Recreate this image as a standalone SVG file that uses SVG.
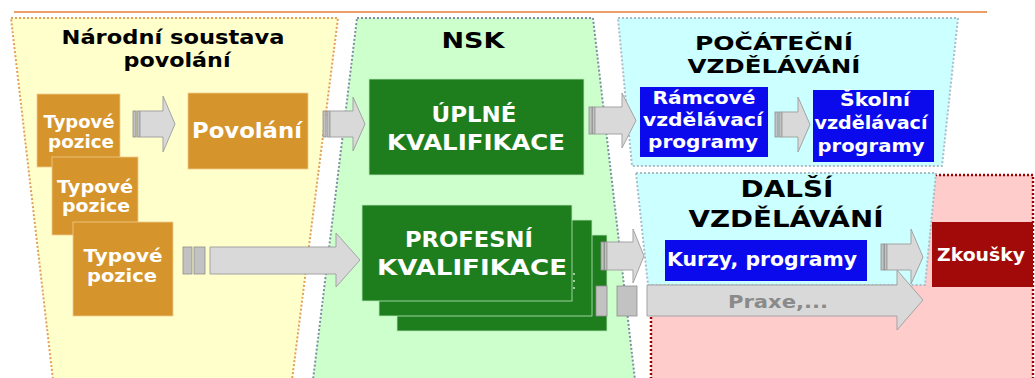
<svg xmlns="http://www.w3.org/2000/svg" width="1035" height="378" viewBox="0 0 1035 378">
<style>
text{font-family:"DejaVu Sans","Verdana",sans-serif;font-weight:bold;text-anchor:middle}
.t{fill:#000}
.w{fill:#fff}
.g{fill:#8a8a8a}
.reg-y{fill:#FFFFCC;stroke:#E2A05A;stroke-width:2;stroke-dasharray:2 2}
.reg-g{fill:#CCFFCC;stroke:#7E8FA3;stroke-width:2;stroke-dasharray:2 2}
.reg-c{fill:#CCFFFF;stroke:#A9BDC9;stroke-width:2;stroke-dasharray:2 2}
.reg-p{fill:#FFCCCC;stroke:#A00000;stroke-width:2.5;stroke-dasharray:2 2}
.or{fill:#D6952C;stroke:#EFCB8C;stroke-width:0.8}
.gr{fill:#1E7E1E;stroke:#B8E8B8;stroke-width:0.8}
.bl{fill:#0A0AEC}
.rd{fill:#A20A0A}
.ar{fill:#D9D9D9;stroke:#A3A3A3;stroke-width:1}
.st{fill:#C2C2C2;stroke:#8E8E8E;stroke-width:0.8}
</style>

<!-- top rule -->
<line x1="14" y1="12" x2="987" y2="12" stroke="#EB9E6A" stroke-width="2"/>

<!-- regions -->
<g id="regions">
  <polygon class="reg-y" points="11,18 338,18 292,380 53,380"/>
  <polygon class="reg-g" points="357,18 593,18 635,380 313,380"/>
  <rect class="reg-p" x="651" y="175" width="382" height="210"/>
  <polygon class="reg-c" points="618,18 958,18 942,166 632,166"/>
  <polygon class="reg-c" points="636,173 936,173 925,285 648,285"/>
</g>

<!-- region titles -->
<g id="title-nsp">
  <text class="t" x="173" y="44" font-size="19.5" textLength="223" lengthAdjust="spacingAndGlyphs">Národní soustava</text>
  <text class="t" x="177" y="67" font-size="19.5" textLength="107" lengthAdjust="spacingAndGlyphs">povolání</text>
</g>
<g id="title-nsk">
  <text class="t" x="473" y="48" font-size="22" textLength="63" lengthAdjust="spacingAndGlyphs">NSK</text>
</g>
<g id="title-pv">
  <text class="t" x="774" y="50" font-size="20" textLength="158" lengthAdjust="spacingAndGlyphs">POČÁTEČNÍ</text>
  <text class="t" x="774" y="73" font-size="20" textLength="173" lengthAdjust="spacingAndGlyphs">VZDĚLÁVÁNÍ</text>
</g>
<g id="title-dv">
  <text class="t" x="787" y="197" font-size="23" textLength="93" lengthAdjust="spacingAndGlyphs">DALŠÍ</text>
  <text class="t" x="786" y="227" font-size="23" textLength="195" lengthAdjust="spacingAndGlyphs">VZDĚLÁVÁNÍ</text>
</g>

<!-- nodes -->
<g id="typove1">
  <rect class="or" x="37" y="94" width="83" height="73"/>
  <text class="w" x="79" y="128" font-size="18" textLength="71" lengthAdjust="spacingAndGlyphs">Typové</text>
  <text class="w" x="81" y="148" font-size="18" textLength="66" lengthAdjust="spacingAndGlyphs">pozice</text>
</g>
<g id="typove2">
  <rect class="or" x="52" y="157" width="86" height="78"/>
  <text class="w" x="95" y="193" font-size="18" textLength="76" lengthAdjust="spacingAndGlyphs">Typové</text>
  <text class="w" x="96" y="212" font-size="18" textLength="68" lengthAdjust="spacingAndGlyphs">pozice</text>
</g>
<g id="typove3">
  <rect class="or" x="73" y="222" width="100" height="94"/>
  <text class="w" x="123" y="262" font-size="18" textLength="79" lengthAdjust="spacingAndGlyphs">Typové</text>
  <text class="w" x="122" y="282" font-size="18" textLength="70" lengthAdjust="spacingAndGlyphs">pozice</text>
</g>
<g id="povolani">
  <rect class="or" x="188" y="93" width="120" height="76"/>
  <text class="w" x="247" y="138" font-size="21" textLength="110" lengthAdjust="spacingAndGlyphs">Povolání</text>
</g>
<g id="uplne">
  <rect class="gr" x="369" y="79" width="215" height="96"/>
  <text class="w" x="474" y="122" font-size="20.5" textLength="85" lengthAdjust="spacingAndGlyphs">ÚPLNÉ</text>
  <text class="w" x="476" y="150" font-size="20.5" textLength="178" lengthAdjust="spacingAndGlyphs">KVALIFIKACE</text>
</g>
<g id="profesni">
  <rect class="gr" x="397" y="235" width="210" height="96"/>
  <rect class="gr" x="379" y="220" width="213" height="96"/>
  <rect class="gr" x="362" y="205" width="210" height="96"/>
  <circle cx="574" cy="274" r="1" fill="#C8ECC8"/>
  <circle cx="574" cy="281" r="1" fill="#C8ECC8"/>
  <circle cx="574" cy="288" r="1" fill="#C8ECC8"/>
  <text class="w" x="469" y="247" font-size="20.5" textLength="128" lengthAdjust="spacingAndGlyphs">PROFESNÍ</text>
  <text class="w" x="472" y="275" font-size="20.5" textLength="190" lengthAdjust="spacingAndGlyphs">KVALIFIKACE</text>
</g>
<g id="ramcove">
  <rect class="bl" x="640" y="87" width="128" height="70"/>
  <text class="w" x="704" y="104" font-size="17" textLength="103" lengthAdjust="spacingAndGlyphs">Rámcové</text>
  <text class="w" x="703" y="126" font-size="17" textLength="120" lengthAdjust="spacingAndGlyphs">vzdělávací</text>
  <text class="w" x="703" y="148" font-size="17" textLength="110" lengthAdjust="spacingAndGlyphs">programy</text>
</g>
<g id="skolni">
  <rect class="bl" x="813" y="90" width="121" height="72"/>
  <text class="w" x="875" y="106" font-size="17" textLength="70" lengthAdjust="spacingAndGlyphs">Školní</text>
  <text class="w" x="871" y="129" font-size="17" textLength="113" lengthAdjust="spacingAndGlyphs">vzdělávací</text>
  <text class="w" x="871" y="152" font-size="17" textLength="107" lengthAdjust="spacingAndGlyphs">programy</text>
</g>
<g id="kurzy">
  <rect class="bl" x="665" y="240" width="202" height="41"/>
  <text class="w" x="762" y="266" font-size="20" textLength="190" lengthAdjust="spacingAndGlyphs">Kurzy, programy</text>
</g>
<g id="zkousky">
  <rect class="rd" x="932" y="222" width="101" height="65"/>
  <text class="w" x="981" y="261" font-size="18" textLength="88" lengthAdjust="spacingAndGlyphs">Zkoušky</text>
</g>

<!-- connectors -->
<g id="connectors">
  <!-- Typové -> Povolání -->
  <rect class="st" x="133" y="111" width="3" height="26"/><rect class="st" x="137" y="111" width="3" height="26"/>
  <path class="ar" d="M140,111 H163 V96 L175,124 L163,152 V137 H140 Z"/>
  <!-- Povolání -> ÚPLNÉ -->
  <rect class="st" x="323" y="111" width="3" height="26"/><rect class="st" x="327" y="111" width="3" height="26"/>
  <path class="ar" d="M330,111 H353 V97 L365,124 L353,151 V137 H330 Z"/>
  <!-- Typové -> PROFESNÍ -->
  <rect class="st" x="183" y="247" width="9" height="27"/><rect class="st" x="194" y="247" width="11" height="27"/>
  <path class="ar" d="M210,247 H336 V233 L360,260 L336,287 V274 H210 Z"/>
  <!-- ÚPLNÉ -> Rámcové -->
  <rect class="st" x="589" y="107" width="3" height="27"/><rect class="st" x="592.5" y="107" width="2.5" height="27"/>
  <path class="ar" d="M595,107 H622 V93 L636,120.5 L622,148 V134 H595 Z"/>
  <!-- Rámcové -> Školní -->
  <rect class="st" x="775" y="112" width="3" height="25"/><rect class="st" x="779" y="112" width="3" height="25"/>
  <path class="ar" d="M782,112 H798 V97 L810,124.5 L798,152 V137 H782 Z"/>
  <!-- PROFESNÍ -> Kurzy -->
  <rect class="st" x="601" y="242" width="3" height="28"/><rect class="st" x="604.5" y="242" width="2.5" height="28"/>
  <path class="ar" d="M607,242 H633 V229 L644,256 L633,283 V270 H607 Z"/>
  <!-- Praxe -->
  <rect class="st" x="596" y="286" width="11" height="30"/><rect class="st" x="617" y="286" width="20" height="30"/>
  <path class="ar" d="M647,285 H897 V270 L923,300 L897,330 V316 H647 Z"/>
  <text class="g" x="778" y="308" font-size="18" textLength="100" lengthAdjust="spacingAndGlyphs">Praxe,...</text>
  <!-- Kurzy -> Zkoušky -->
  <rect class="st" x="881" y="244" width="3" height="26"/><rect class="st" x="884.5" y="244" width="2.5" height="26"/>
  <path class="ar" d="M887,244 H911 V229 L923,257 L911,284 V270 H887 Z"/>
</g>
</svg>
